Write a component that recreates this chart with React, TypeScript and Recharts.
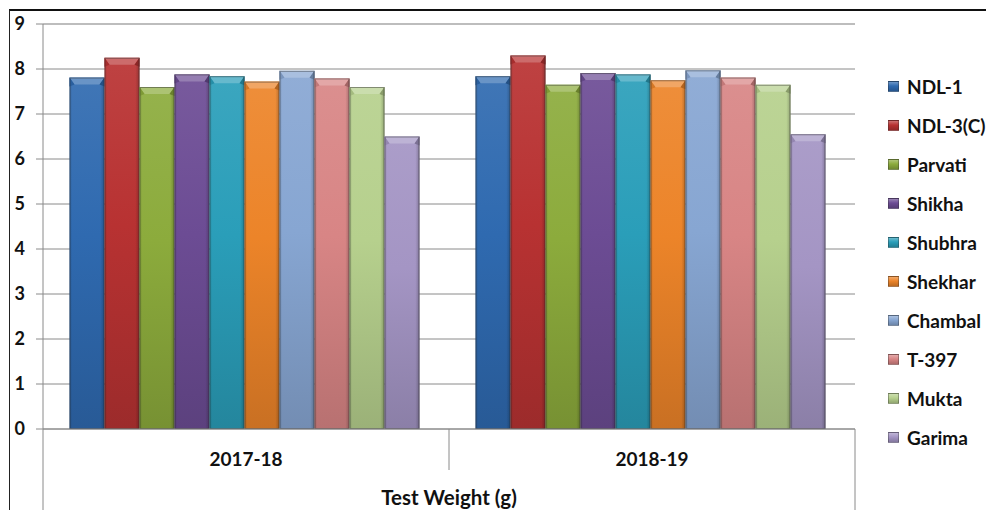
import React from 'react';
import { BarChart, Bar, XAxis, YAxis, CartesianGrid, Label } from 'recharts';

// Seasons on the category axis
const categories = ['2017-18', '2018-19'];

// Varieties (one bar series each)
const varieties = ['NDL-1', 'NDL-3(C)', 'Parvati', 'Shikha', 'Shubhra', 'Shekhar', 'Chambal', 'T-397', 'Mukta', 'Garima'];

// Test weight (g) per variety, one value per season
const ndl1 = [7.81, 7.84];
const ndl3c = [8.25, 8.3];
const parvati = [7.6, 7.65];
const shikha = [7.88, 7.91];
const shubhra = [7.84, 7.88];
const shekhar = [7.72, 7.75];
const chambal = [7.96, 7.97];
const t397 = [7.79, 7.81];
const mukta = [7.6, 7.65];
const garima = [6.5, 6.55];

const seriesValues = [ndl1, ndl3c, parvati, shikha, shubhra, shekhar, chambal, t397, mukta, garima];

const yTicks = [0, 1, 2, 3, 4, 5, 6, 7, 8, 9];

const colors = ['#2f6ab0', '#b83232', '#8cab3c', '#6c4c94', '#2a9eb9', '#ec8429', '#87a6d2', '#d88585', '#b6d08d', '#a495c4'];

const axisTitle = 'Test Weight (g)';

const data = categories.map((year, i) => {
  const row: Record<string, string | number> = { year };
  varieties.forEach((v, j) => {
    row[v] = seriesValues[j][i];
  });
  return row;
});

const W = 986;
const H = 510;
const MARGIN = { top: 24, right: 131, bottom: 0, left: 9 };
const Y_W = 34;
const X_H = 81;
const PLOT_W = W - MARGIN.left - Y_W - MARGIN.right;
const BAND = PLOT_W / categories.length;
const FONT = 'Lato, "Open Sans", "DejaVu Sans", sans-serif';

function mix(hex: string, target: string, t: number) {
  const a = parseInt(hex.slice(1), 16);
  const b = parseInt(target.slice(1), 16);
  const ch = (v: number, s: number) => (v >> s) & 255;
  const out = [16, 8, 0].map((s) => Math.round(ch(a, s) + (ch(b, s) - ch(a, s)) * t));
  return '#' + out.map((v) => v.toString(16).padStart(2, '0')).join('');
}

const BevelBar = (props: any) => {
  const { x, y, width, height, si } = props;
  if (!height || height <= 0) return null;
  const base = colors[si];
  const bh = Math.min(7, height);
  const bi = 5;
  return (
    <g>
      <rect x={x} y={y} width={width} height={height} fill={`url(#body-${si})`} />
      <rect x={x} y={y} width={width} height={height} fill={`url(#edge)`} />
      <polygon
        points={`${x},${y} ${x + width},${y} ${x + width - bi},${y + bh} ${x + bi},${y + bh}`}
        fill={mix(base, '#ffffff', 0.28)}
      />
      <polygon points={`${x},${y} ${x + bi},${y + bh} ${x},${y + bh + 2}`} fill={mix(base, '#000000', 0.1)} />
      <polygon points={`${x + width},${y} ${x + width - bi},${y + bh} ${x + width},${y + bh + 2}`} fill={mix(base, '#000000', 0.25)} />
      <rect x={x + 0.5} y={y + 0.5} width={width - 1} height={height - 1} fill="none" stroke="rgba(40,40,40,0.45)" strokeWidth={1} />
    </g>
  );
};

const CategoryTick = (props: any) => {
  const { x, y, payload, index } = props;
  const half = BAND / 2;
  const last = index === categories.length - 1;
  return (
    <g>
      <text x={x} y={y + 29} textAnchor="middle" dominantBaseline="central" fill="#111" fontSize={19} fontWeight={700} fontFamily={FONT}>
        {payload.value}
      </text>
      {index === 0 && <line x1={x - half} y1={y} x2={x - half} y2={H} stroke="#8a8a8a" strokeWidth={1} />}
      <line x1={x + half} y1={y} x2={x + half} y2={last ? H : y + 41} stroke="#8a8a8a" strokeWidth={1} />
    </g>
  );
};

const GridLine = (p: any) => {
  const top = Math.round(p.y1) <= MARGIN.top;
  return (
    <line
      key={p.key}
      x1={p.x1}
      y1={p.y1}
      x2={p.x2}
      y2={p.y2}
      stroke={top ? '#bdbdbd' : '#8a8a8a'}
      strokeWidth={top ? 2 : 1}
    />
  );
};

const SeriesLegend = () => (
  <div style={{ position: 'absolute', left: 886, top: 67, width: 100, fontFamily: FONT }}>
    {varieties.map((v, i) => (
      <div key={v} style={{ height: 39, display: 'flex', alignItems: 'center' }}>
        <div
          style={{
            width: 9,
            height: 9,
            marginLeft: 2,
            marginRight: 8,
            border: '1px solid rgba(40,40,40,0.35)',
            background: `linear-gradient(to bottom, ${mix(colors[i], '#ffffff', 0.3)} 0%, ${colors[i]} 45%, ${mix(colors[i], '#000000', 0.2)} 100%)`,
          }}
        />
        <span style={{ fontSize: 19, fontWeight: 700, color: '#111', whiteSpace: 'nowrap' }}>{v}</span>
      </div>
    ))}
  </div>
);

export default function App() {
  return (
    <div style={{ position: 'absolute', left: 0, top: 0, width: W, height: H, background: '#fff' }}>
      <BarChart
        width={W}
        height={H}
        data={data}
        margin={MARGIN}
        barCategoryGap={26.5}
        barGap={0}
        style={{ fontFamily: FONT }}
      >
        <defs>
          {colors.map((c, i) => (
            <linearGradient key={i} id={`body-${i}`} x1="0" y1="0" x2="0" y2="1">
              <stop offset="0%" stopColor={mix(c, '#ffffff', 0.08)} />
              <stop offset="45%" stopColor={c} />
              <stop offset="100%" stopColor={mix(c, '#000000', 0.15)} />
            </linearGradient>
          ))}
          <linearGradient id="edge" x1="0" y1="0" x2="1" y2="0">
            <stop offset="0%" stopColor="#000" stopOpacity={0.12} />
            <stop offset="8%" stopColor="#000" stopOpacity={0} />
            <stop offset="88%" stopColor="#000" stopOpacity={0} />
            <stop offset="100%" stopColor="#000" stopOpacity={0.22} />
          </linearGradient>
        </defs>
        <CartesianGrid vertical={false} horizontal={GridLine} />
        <XAxis
          dataKey="year"
          height={X_H}
          axisLine={{ stroke: '#8a8a8a' }}
          tickLine={false}
          tickSize={0}
          tickMargin={0}
          tick={<CategoryTick />}
          interval={0}
        >
          <Label
            value={axisTitle}
            position="insideBottom"
            offset={5}
            fill="#111"
            fontSize={20.5}
            fontWeight={700}
            fontFamily={FONT}
          />
        </XAxis>
        <YAxis
          width={Y_W}
          domain={[0, 9]}
          ticks={yTicks}
          interval={0}
          axisLine={{ stroke: '#8a8a8a' }}
          tickLine={{ stroke: '#8a8a8a' }}
          tickSize={7}
          tickMargin={11}
          tick={{ fill: '#111', fontSize: 18, fontWeight: 700, fontFamily: FONT }}
        />
        {varieties.map((v, i) => (
          <Bar
            key={v}
            dataKey={v}
            fill={colors[i]}
            isAnimationActive={false}
            shape={(p: any) => <BevelBar {...p} si={i} />}
          />
        ))}
      </BarChart>
      <SeriesLegend />
      <div
        style={{
          position: 'absolute',
          left: 9,
          top: 9,
          width: W - 9,
          height: H - 9,
          borderTop: '2px solid #111',
          borderLeft: '1px solid #222',
          boxSizing: 'border-box',
          pointerEvents: 'none',
        }}
      />
    </div>
  );
}
